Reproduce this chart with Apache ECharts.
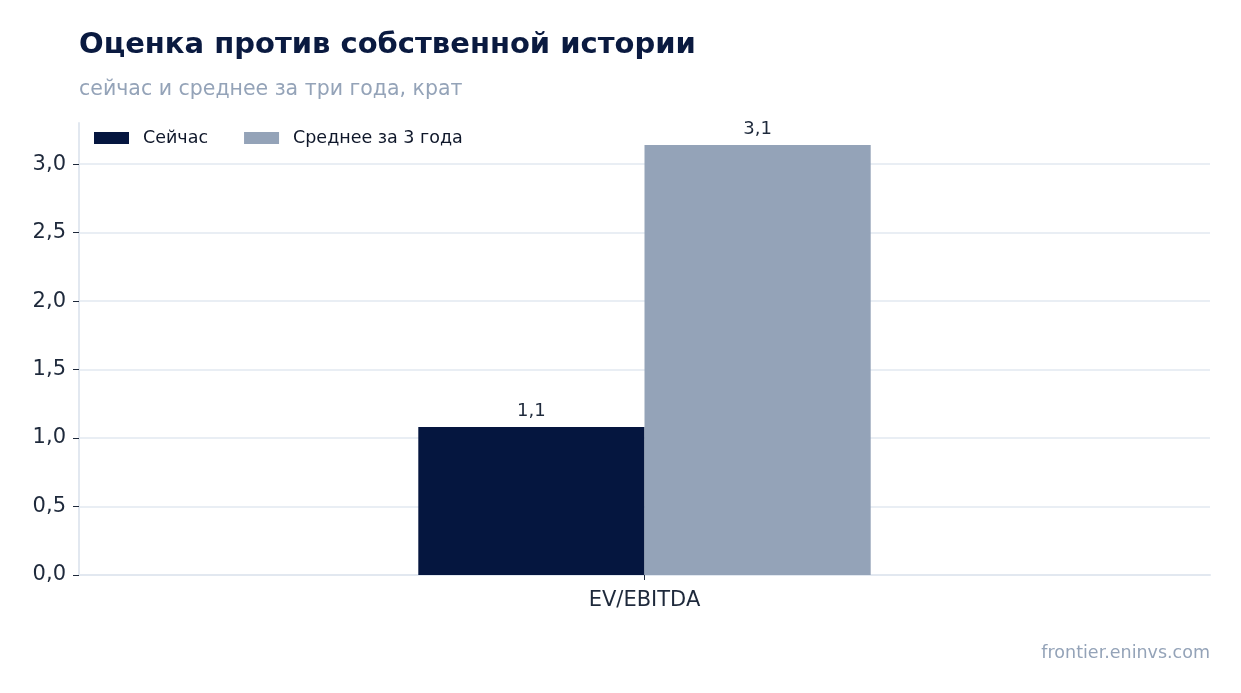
<!DOCTYPE html>
<html><head><meta charset="utf-8">
<script src="https://cdn.jsdelivr.net/npm/echarts@6/dist/echarts.min.js"></script>
<style>
html, body { height: 100%; margin: 0; padding: 0; background: #fff; }
#main { width: 1241px; height: 693px; }
</style></head><body><div id="main"></div><script type="text/javascript">
var categories = ['EV/EBITDA'];
var nowValues = [1.08];
var avgValues = [3.14];
var seriesNames = ['Сейчас', 'Среднее за 3 года'];
var yTicks = [0, 0.5, 1.0, 1.5, 2.0, 2.5, 3.0];

var myChart = echarts.init(document.getElementById('main'));
var fmt = function (v) { return v.toFixed(1).replace('.', ','); };
var font = 'DejaVu Sans';

option = {
    backgroundColor: '#fff',
    animation: false,
    textStyle: { fontFamily: font },
    title: [{
        text: 'Оценка против собственной истории',
        left: 79, top: 31, padding: 0,
        textStyle: { fontFamily: font, fontSize: 29, fontWeight: 'bold', color: '#0a1a40' }
    }, {
        text: 'сейчас и среднее за три года, крат',
        left: 79, top: 79, padding: 0,
        textStyle: { fontFamily: font, fontSize: 20.5, fontWeight: 'normal', color: '#94a3b8' }
    }, {
        text: 'frontier.eninvs.com',
        right: 31, top: 644, padding: 0,
        textStyle: { fontFamily: font, fontSize: 17.5, fontWeight: 'normal', color: '#94a3b8' }
    }],
    legend: {
        left: 94, top: 129, padding: 0,
        itemWidth: 35, itemHeight: 12, itemGap: 36,
        icon: 'rect',
        textStyle: { fontFamily: font, fontSize: 17.5, color: '#0f172a', padding: [0, 0, 0, 9] },
        data: seriesNames
    },
    grid: { left: 79, right: 31, top: 123, bottom: 118 },
    xAxis: {
        type: 'category',
        data: categories,
        axisLine: { lineStyle: { color: '#e2e8f0', width: 2 } },
        axisTick: { show: true, alignWithLabel: true, length: 5, lineStyle: { color: '#1e293b' } },
        axisLabel: { fontFamily: font, fontSize: 21, color: '#1e293b', margin: 15 }
    },
    yAxis: {
        type: 'value',
        min: 0, max: 3.3, interval: 0.5,
        axisLine: { show: true, lineStyle: { color: '#e2e8f0', width: 2 } },
        axisTick: { show: true, length: 6, lineStyle: { color: '#1e293b' }, customValues: yTicks },
        axisLabel: { fontFamily: font, fontSize: 21, color: '#1e293b', margin: 13,
            padding: [6, 0, 0, 0], customValues: yTicks, formatter: fmt },
        splitLine: { show: true, lineStyle: { color: '#e2e8f0', width: 1.5 } }
    },
    series: [{
        name: seriesNames[0],
        type: 'bar',
        data: nowValues,
        barWidth: '20%',
        barGap: '0%',
        itemStyle: { color: '#05163f' },
        label: { show: true, position: 'top', distance: 7, fontFamily: font, fontSize: 18, color: '#1e293b',
            formatter: function (p) { return fmt(p.value); } }
    }, {
        name: seriesNames[1],
        type: 'bar',
        data: avgValues,
        barWidth: '20%',
        barGap: '0%',
        itemStyle: { color: '#94a3b8' },
        label: { show: true, position: 'top', distance: 7, fontFamily: font, fontSize: 18, color: '#1e293b',
            formatter: function (p) { return fmt(p.value); } }
    }]
};
myChart.setOption(option);
</script></body></html>
